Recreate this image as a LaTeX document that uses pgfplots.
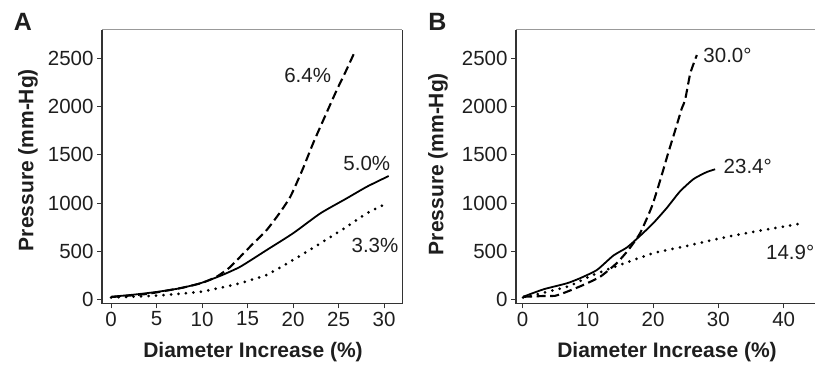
\documentclass[border=0pt]{standalone}
\usepackage{fontspec}
\setmainfont{Liberation Sans}
\usepackage{pgfplots}
\pgfplotsset{compat=1.18}
\definecolor{txt}{HTML}{1E1E1E}
\definecolor{axdark}{HTML}{333333}
\definecolor{axtop}{HTML}{999999}
\newcommand{\tfont}{\fontsize{20.5bp}{24bp}\selectfont}
\newcommand{\lfont}{\fontsize{21bp}{25bp}\selectfont\bfseries}
\pgfplotsset{
  panel/.style={
    scale only axis, width=300.3bp, height=273.6bp, anchor=south west,
    axis line style={draw=none},
    tick align=outside, xtick pos=left, ytick pos=left,
    major tick length=5bp,
    tick style={color=axdark, line width=1bp},
    ymin=-40, ymax=2800, ytick={0,500,1000,1500,2000,2500},
    ticklabel style={font=\tfont, text=txt},
    /pgf/number format/assume math mode=true,
    /pgf/number format/1000 sep={},
    clip=false,
  },
  solidc/.style={black, line width=1.8bp, smooth, tension=0.35},
  dashc/.style={black, line width=2.1bp, dash pattern=on 9bp off 4.5bp, smooth, tension=0.35},
  dotc/.style={black, line width=3bp, dash pattern=on 0bp off 7.5bp, line cap=round, smooth, tension=0.35},
}
\begin{document}
\begin{tikzpicture}
\useasboundingbox (0bp,0bp) rectangle (815bp,-370bp);
% Panel A
\begin{axis}[panel, at={(102bp,-303.3bp)}, xmin=-1, xmax=32, xtick={0,5,10,15,20,25,30}]
\addplot[dashc] coordinates {
(0,25) (2,40) (4,58) (6,90) (8,125) (10,172) (11.6,236) (13,330) (14.2,444)
(15.5,570) (17.1,721) (18.5,895) (19.7,1067) (21,1340) (22.2,1621) (23.5,1900)
(24.8,2174) (25.8,2370) (26.7,2555)};
\addplot[solidc] coordinates {
(0,28) (2.5,50) (5,78) (7.5,115) (9.8,168) (12,245) (14.2,340) (17.1,513)
(20,687) (23,894) (25.9,1050) (28.1,1170) (30.5,1281)};
\addplot[dotc] coordinates {
(0,20) (5,40) (9.8,80) (13.4,150) (16,220) (17.1,254) (20,410) (23,583) (25.9,755)
(28.1,894) (29.9,980)};
\node[font=\tfont, text=txt] at (axis cs:21.6,2330) {6.4\%};
\node[font=\tfont, text=txt] at (axis cs:28.1,1416) {5.0\%};
\node[font=\tfont, text=txt] at (axis cs:29.0,565) {3.3\%};
\end{axis}
\draw[axtop, line width=1.5bp] (102bp,-29.7bp) -- (402.3bp,-29.7bp);
\draw[axdark, line width=1.3bp] (102bp,-29.7bp) -- (102bp,-303.3bp) -- (402.3bp,-303.3bp) -- (402.3bp,-29.7bp);
% Panel B
\begin{axis}[panel, at={(516bp,-303.3bp)}, xmin=-1, xmax=45, xtick={0,10,20,30,40}]
\addplot[dashc] coordinates {
(0.1,28) (1.5,30) (3.2,36) (5.0,38) (6.8,80) (9.3,150) (11.9,236) (14.4,375)
(16.2,513) (18.0,687) (19.8,963) (21.1,1240) (22.3,1517) (23.4,1759) (24.4,1984)
(24.9,2070) (25.7,2347) (26.7,2537)};
\addplot[solidc] coordinates {
(0.1,28) (3.2,105) (6.8,168) (8.8,220) (11.4,306) (13.9,455) (16.0,540) (18.0,660)
(20.0,790) (22.1,950) (24.1,1120) (26.2,1250) (28.2,1322) (29.5,1351)};
\addplot[dotc] coordinates {
(0.1,20) (6.8,132) (10.8,254) (14.9,358) (20.0,479) (25.1,555) (30.3,635)
(35.4,703) (40.5,762) (42.8,790)};
\node[font=\tfont, text=txt] at (axis cs:31.4,2532) {30.0°};
\node[font=\tfont, text=txt] at (axis cs:34.5,1385) {23.4°};
\node[font=\tfont, text=txt] at (axis cs:41.0,487) {14.9°};
\end{axis}
\draw[axtop, line width=1.5bp] (516bp,-29.7bp) -- (817bp,-29.7bp);
\draw[axdark, line width=1.3bp] (516bp,-29.7bp) -- (516bp,-303.3bp) -- (817bp,-303.3bp);
% Labels
\node[font=\lfont, text=txt] at (253bp,-352bp) {Diameter Increase (\%)};
\node[font=\lfont, text=txt] at (667bp,-352bp) {Diameter Increase (\%)};
\node[font=\lfont, text=txt, rotate=90] at (28bp,-160bp) {Pressure (mm-Hg)};
\node[font=\lfont, text=txt, rotate=90] at (438bp,-164bp) {Pressure (mm-Hg)};
\node[font=\fontsize{25bp}{28bp}\selectfont\bfseries, text=txt] at (23bp,-21.5bp) {A};
\node[font=\fontsize{25bp}{28bp}\selectfont\bfseries, text=txt] at (437.5bp,-21.5bp) {B};
\end{tikzpicture}
\end{document}
